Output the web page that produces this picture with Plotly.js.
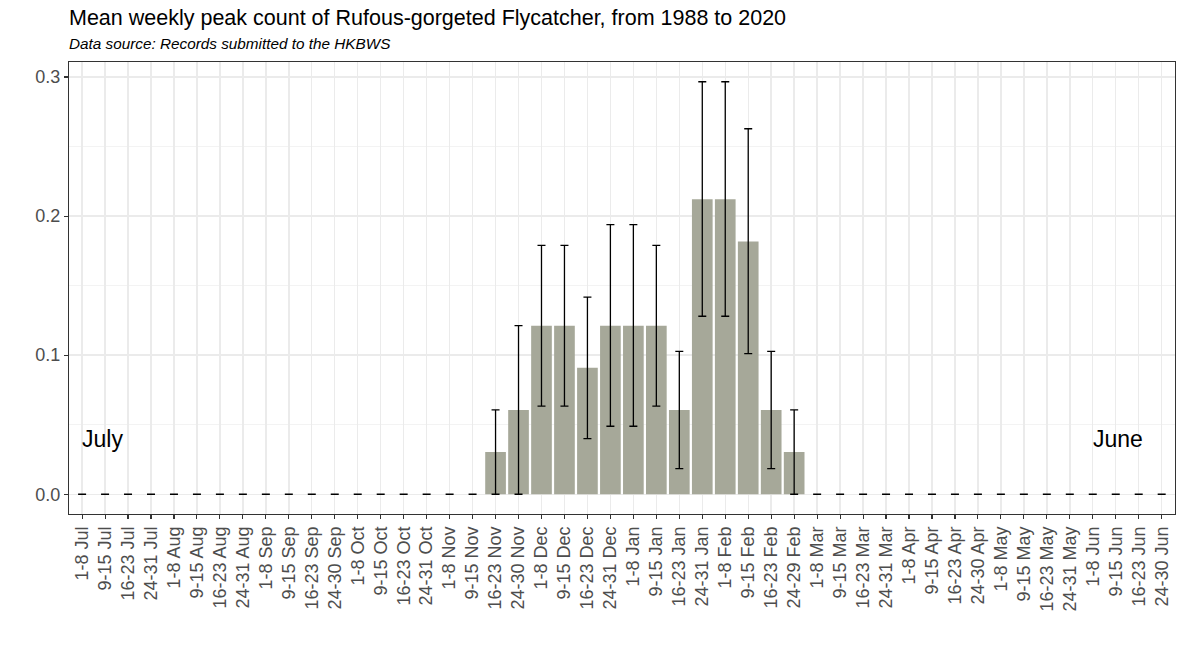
<!DOCTYPE html>
<html>
<head>
<meta charset="utf-8">
<script src="https://cdn.plot.ly/plotly-3.0.1.min.js"></script>
<style>html,body{margin:0;padding:0;background:#fff;}#chart{width:1184px;height:646px;}</style>
</head>
<body>
<div id="chart"></div>
<script>
const weeks = [
  "1-8 Jul","9-15 Jul","16-23 Jul","24-31 Jul",
  "1-8 Aug","9-15 Aug","16-23 Aug","24-31 Aug",
  "1-8 Sep","9-15 Sep","16-23 Sep","24-30 Sep",
  "1-8 Oct","9-15 Oct","16-23 Oct","24-31 Oct",
  "1-8 Nov","9-15 Nov","16-23 Nov","24-30 Nov",
  "1-8 Dec","9-15 Dec","16-23 Dec","24-31 Dec",
  "1-8 Jan","9-15 Jan","16-23 Jan","24-31 Jan",
  "1-8 Feb","9-15 Feb","16-23 Feb","24-29 Feb",
  "1-8 Mar","9-15 Mar","16-23 Mar","24-31 Mar",
  "1-8 Apr","9-15 Apr","16-23 Apr","24-30 Apr",
  "1-8 May","9-15 May","16-23 May","24-31 May",
  "1-8 Jun","9-15 Jun","16-23 Jun","24-30 Jun"
];
const meanCount = [
  0,0,0,0, 0,0,0,0, 0,0,0,0, 0,0,0,0,
  0,0,0.0303,0.0606, 0.1212,0.1212,0.0909,0.1212,
  0.1212,0.1212,0.0606,0.2121, 0.2121,0.1818,0.0606,0.0303,
  0,0,0,0, 0,0,0,0, 0,0,0,0, 0,0,0,0
];
const upperCI = [
  0,0,0,0, 0,0,0,0, 0,0,0,0, 0,0,0,0,
  0,0,0.0606,0.1212, 0.179,0.179,0.1418,0.1938,
  0.1938,0.179,0.1028,0.2966, 0.2966,0.2628,0.1028,0.0606,
  0,0,0,0, 0,0,0,0, 0,0,0,0, 0,0,0,0
];
const lowerCI = [
  0,0,0,0, 0,0,0,0, 0,0,0,0, 0,0,0,0,
  0,0,0,0, 0.0633,0.0633,0.040,0.0489,
  0.0489,0.0633,0.0184,0.128, 0.128,0.1011,0.0184,0,
  0,0,0,0, 0,0,0,0, 0,0,0,0, 0,0,0,0
];
const monthLabels = ["July","June"];
const monthLabelX = [0.9,45.1];
const monthLabelY = [0.04,0.04];

const errPlus = upperCI.map((u,i)=>u-meanCount[i]);
const errMinus = lowerCI.map((l,i)=>meanCount[i]-l);
const FONT = "Liberation Sans, Arial, sans-serif";

const trace = {
  type: "bar",
  x: weeks.map((w,i)=>i),
  y: meanCount,
  width: 0.9,
  marker: {color: "#a6a899", line: {width: 0}},
  error_y: {type: "data", symmetric: false, array: errPlus, arrayminus: errMinus,
            color: "#000000", thickness: 1.3, width: 4},
  hoverinfo: "skip"
};

const annotations = [
  {text: "Mean weekly peak count of Rufous-gorgeted Flycatcher, from 1988 to 2020",
   xref: "paper", yref: "paper", x: -0.002, y: 1.0973, xanchor: "left", yanchor: "middle",
   showarrow: false, font: {family: FONT, size: 21.5, color: "#000"}},
  {text: "<i>Data source: Records submitted to the HKBWS</i>",
   xref: "paper", yref: "paper", x: -0.002, y: 1.042, xanchor: "left", yanchor: "middle",
   showarrow: false, font: {family: FONT, size: 15.3, color: "#000"}}
];
monthLabels.forEach((t,i)=>annotations.push({
  text: t, x: monthLabelX[i], y: monthLabelY[i], xref: "x", yref: "y",
  showarrow: false, xanchor: "center", yanchor: "middle",
  font: {family: FONT, size: 23, color: "#000"}
}));

const layout = {
  width: 1184, height: 646,
  margin: {l: 69, r: 9, t: 62, b: 132},
  paper_bgcolor: "#fff", plot_bgcolor: "#fff",
  showlegend: false,
  bargap: 0.1,
  xaxis: {
    range: [-0.57, 47.58], tickmode: "array", tickvals: weeks.map((w,i)=>i), ticktext: weeks,
    tickangle: -90, ticks: "outside", ticklen: 4, tickcolor: "#333", tickwidth: 1.1,
    tickfont: {family: FONT, size: 18, color: "#4d4d4d"},
    showgrid: true, gridcolor: "#ebebeb", gridwidth: 1.4,
    showline: true, mirror: true, linecolor: "#333", linewidth: 1.2, zeroline: false,
    fixedrange: true
  },
  yaxis: {
    range: [-0.0142, 0.3108], tickvals: [0,0.1,0.2,0.3], ticktext: ["0.0","0.1","0.2","0.3"],
    ticks: "outside", ticklen: 4, tickcolor: "#333", tickwidth: 1.1,
    tickfont: {family: FONT, size: 18, color: "#4d4d4d"},
    showgrid: true, gridcolor: "#ebebeb", gridwidth: 1.4,
    minor: {tickvals: [0.05,0.15,0.25], showgrid: true, gridcolor: "#f2f2f2", gridwidth: 0.9, ticks: ""},
    showline: true, mirror: true, linecolor: "#333", linewidth: 1.2, zeroline: false,
    fixedrange: true
  },
  annotations: annotations
};

Plotly.newPlot("chart", [trace], layout, {displayModeBar: false, staticPlot: true});
</script>
</body>
</html>
